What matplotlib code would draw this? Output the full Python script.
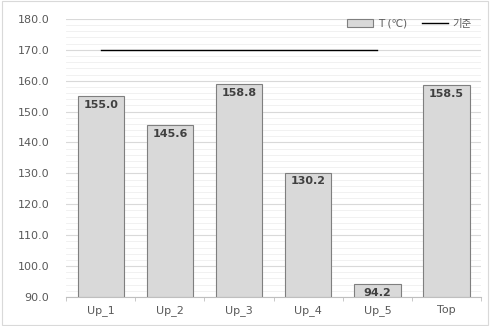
import matplotlib
matplotlib.use("Agg")
import matplotlib.pyplot as plt
from matplotlib.ticker import MultipleLocator

plt.rcParams['font.family'] = ['DejaVu Sans', 'Noto Sans CJK KR']

categories = ["Up_1", "Up_2", "Up_3", "Up_4", "Up_5", "Top"]
temps = [155.0, 145.6, 158.8, 130.2, 94.2, 158.5]
ref_value = 170.0
ref_span = ["Up_1", "Up_5"]

fig = plt.figure(figsize=(4.9, 3.26), dpi=100)
fig.patches.append(plt.Rectangle((0.004, 0.004), 0.992, 0.992, transform=fig.transFigure,
                                 fill=False, edgecolor='#d9d9d9', linewidth=0.8))
ax = fig.add_axes([0.135, 0.089, 0.847, 0.853])

x = list(range(len(categories)))
bars = ax.bar(x, [t - 90 for t in temps], bottom=90, width=0.67, color='#d9d9d9',
              edgecolor='#7f7f7f', linewidth=0.8, label='T (℃)', zorder=3)
for xi, t in zip(x, temps):
    ax.text(xi, t - 1.2, f"{t:.1f}", ha='center', va='top', fontsize=8,
            fontweight='bold', color='#404040', zorder=4)

i0, i1 = categories.index(ref_span[0]), categories.index(ref_span[1])
line, = ax.plot([i0, i1], [ref_value, ref_value], color='black', linewidth=1.0,
                label='기준', zorder=3)

ax.set_xlim(-0.5, len(categories) - 0.5)
ax.set_ylim(90, 180)
ax.yaxis.set_major_locator(MultipleLocator(10))
ax.yaxis.set_minor_locator(MultipleLocator(2))
ax.yaxis.set_major_formatter(matplotlib.ticker.FormatStrFormatter('%.1f'))
ax.grid(axis='y', which='major', color='#d9d9d9', linewidth=0.8, zorder=0)
ax.grid(axis='y', which='minor', color='#efefef', linewidth=0.6, zorder=0)

ax.set_xticks(x)
ax.set_xticklabels(categories)
ax.set_xticks([i + 0.5 for i in range(-1, len(categories))], minor=True)
ax.tick_params(axis='x', which='major', length=0, labelsize=8, colors='#595959', pad=6)
ax.tick_params(axis='x', which='minor', length=3, color='#bfbfbf')
ax.tick_params(axis='y', which='both', length=0, labelsize=8, colors='#595959', pad=12)

for s in ['top', 'right', 'left']:
    ax.spines[s].set_visible(False)
ax.spines['bottom'].set_color('#bfbfbf')

leg = ax.legend(handles=[bars, line], loc='upper right', bbox_to_anchor=(1.0, 1.035), ncol=2,
                frameon=False, fontsize=7.5, handlelength=2.5, columnspacing=1.5,
                handletextpad=0.4)
for t in leg.get_texts():
    t.set_color('#595959')

fig.savefig("out.png", dpi=100)
